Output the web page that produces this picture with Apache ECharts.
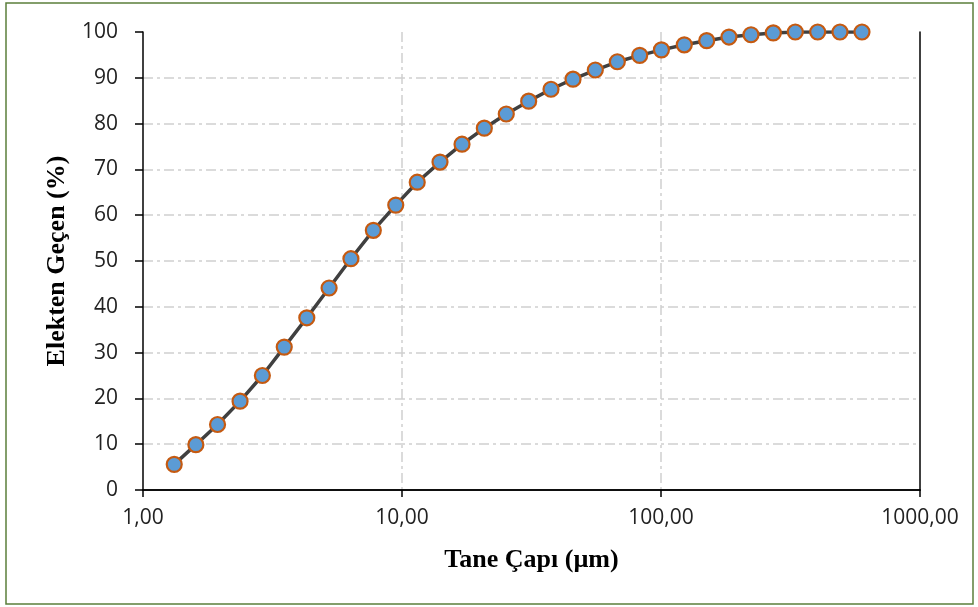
<!DOCTYPE html>
<html>
<head>
<meta charset="utf-8">
<script src="https://cdn.jsdelivr.net/npm/echarts@6/dist/echarts.min.js"></script>
<style>
html,body{margin:0;padding:0;background:#fff;}
#chart{width:978px;height:607px;}
</style>
</head>
<body>
<div id="chart"></div>
<script>
// Particle size (µm)
var grainSize = [1.32, 1.60, 1.94, 2.37, 2.89, 3.51, 4.29, 5.23, 6.35, 7.75, 9.46, 11.45,
  14.02, 17.05, 20.79, 25.27, 30.84, 37.61, 45.74, 55.77, 67.82, 82.77, 100.4, 123.0,
  150.1, 183.0, 222.6, 271.4, 330.0, 402.7, 491.0, 597.0];
// Cumulative passing (%)
var passing = [5.6, 9.9, 14.3, 19.4, 25.0, 31.2, 37.6, 44.1, 50.5, 56.7, 62.2, 67.2,
  71.6, 75.5, 79.0, 82.1, 84.9, 87.5, 89.7, 91.7, 93.5, 94.9, 96.1, 97.2,
  98.1, 98.9, 99.4, 99.8, 100, 100, 100, 100];
var xTitle = 'Tane Çapı (µm)';
var yTitle = 'Elekten Geçen (%)';

var seriesData = grainSize.map(function (s, i) { return [s, passing[i]]; });

var gridLine = {show: true, showMinLine: false, showMaxLine: false,
  lineStyle: {color: '#d0d0d0', width: 1.5, type: [10, 4, 3, 4]}};
var labelFont = '"Open Sans", "Noto Sans", sans-serif';
var titleFont = '"Liberation Serif", "DejaVu Serif", serif';
var blackLine = {show: true, lineStyle: {color: '#000', width: 1.5}};

var chart = echarts.init(document.getElementById('chart'));
chart.setOption({
  animation: false,
  backgroundColor: '#ffffff',
  graphic: [{
    type: 'rect',
    shape: {x: 6, y: 3, width: 967, height: 601},
    style: {fill: 'none', stroke: '#5b7f3b', lineWidth: 1.5},
    silent: true
  }],
  grid: {left: 143, right: 58, top: 32, bottom: 117},
  xAxis: [{
    type: 'log', logBase: 10, min: 1, max: 1000,
    name: xTitle, nameLocation: 'middle', nameGap: 57,
    nameTextStyle: {fontFamily: titleFont, fontWeight: 'bold', fontSize: 26, color: '#000'},
    axisLine: blackLine,
    axisTick: {show: true, length: 7, inside: false, lineStyle: {color: '#000', width: 1.5}},
    minorTick: {show: false},
    splitLine: gridLine,
    axisLabel: {
      margin: 18, fontFamily: labelFont, fontSize: 21, color: '#222',
      showMinLabel: true, showMaxLabel: true,
      formatter: function (v) { return Number(v).toFixed(2).replace('.', ','); }
    },
    z: 3
  }, {
    type: 'log', logBase: 10, min: 1, max: 1000, position: 'top',
    axisLine: blackLine, axisTick: {show: false}, axisLabel: {show: false},
    splitLine: {show: false}, z: 3
  }],
  yAxis: [{
    type: 'value', min: 0, max: 100, interval: 10,
    name: yTitle, nameLocation: 'middle', nameGap: 73,
    nameTextStyle: {fontFamily: titleFont, fontWeight: 'bold', fontSize: 26, color: '#000'},
    axisLine: blackLine,
    axisTick: {show: true, length: 8, inside: false, lineStyle: {color: '#000', width: 1.5}},
    splitLine: gridLine,
    axisLabel: {margin: 25, fontFamily: labelFont, fontSize: 21, color: '#222'},
    z: 3
  }, {
    type: 'value', min: 0, max: 100, interval: 10, position: 'right',
    axisLine: blackLine, axisTick: {show: false}, axisLabel: {show: false},
    splitLine: {show: false}, z: 3
  }],
  series: [{
    type: 'line',
    data: seriesData,
    symbol: 'circle',
    symbolSize: 15,
    lineStyle: {color: '#404040', width: 3.5},
    itemStyle: {color: '#5b9bd5', borderColor: '#c55a11', borderWidth: 2.2},
    z: 5
  }]
});
</script>
</body>
</html>
